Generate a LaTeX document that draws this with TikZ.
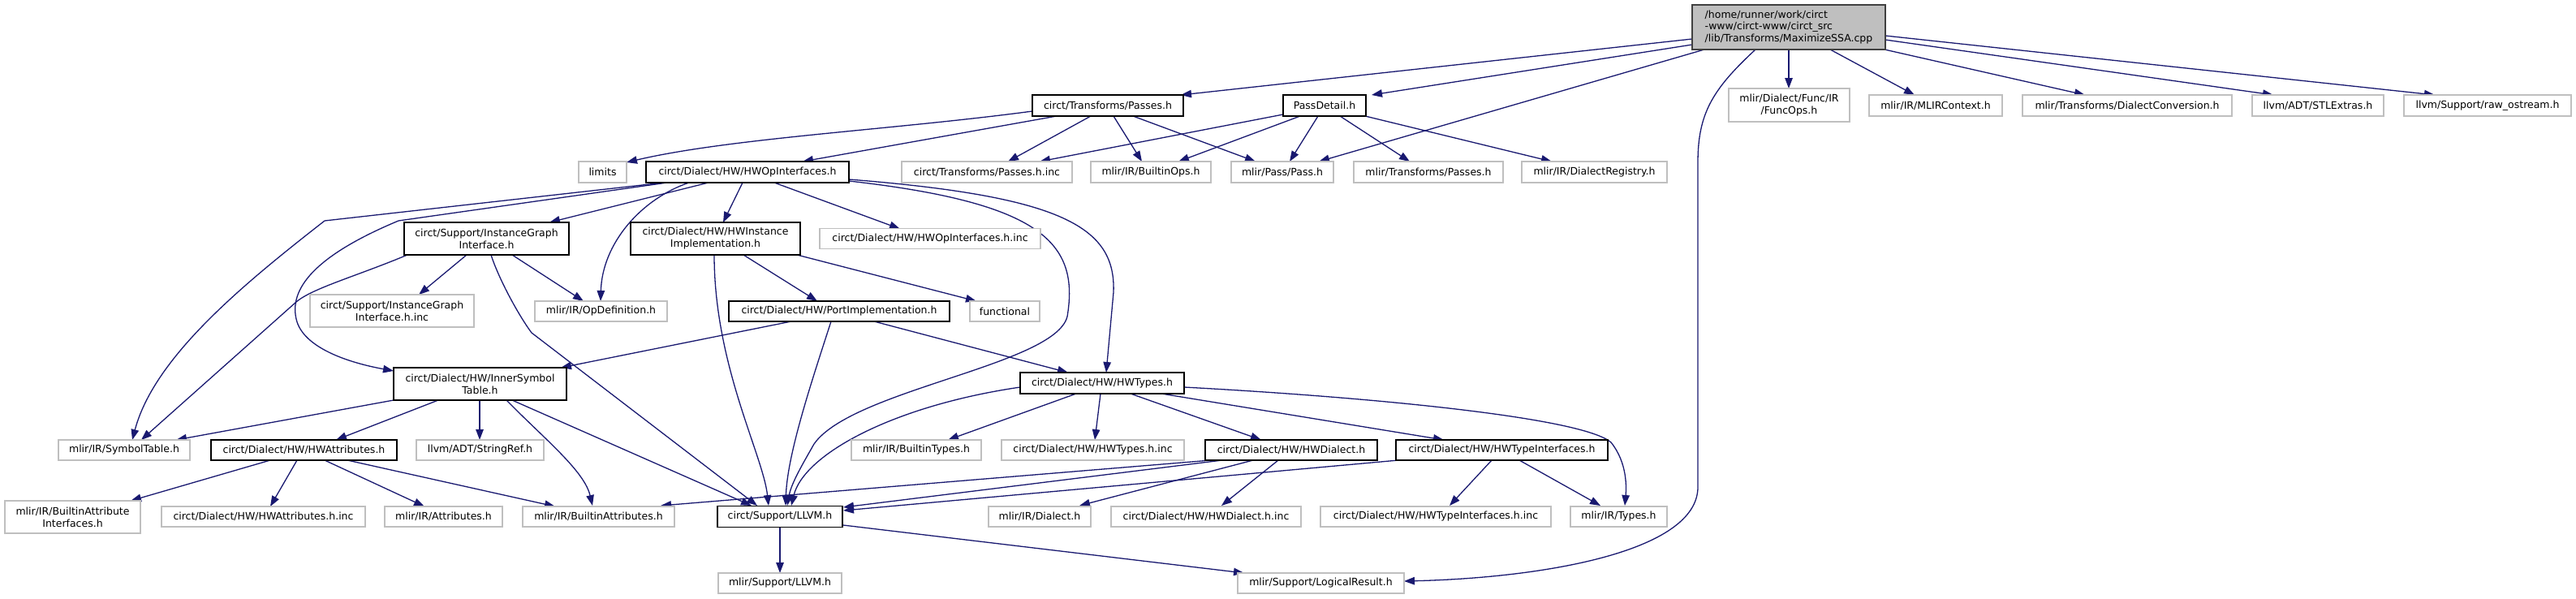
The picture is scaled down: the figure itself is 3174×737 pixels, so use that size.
\documentclass[tikz,border=0pt]{standalone}
\usepackage{fontspec}
\setmainfont{DejaVu Sans}
\usetikzlibrary{arrows.meta,backgrounds}
\definecolor{edgec}{HTML}{191970}
\definecolor{greyb}{HTML}{BFBFBF}
\definecolor{greyd}{HTML}{404040}
\begin{document}
\begin{tikzpicture}[x=1pt,y=-1pt,
  every node/.style={inner sep=0pt, font=\fontsize{12.5}{15}\selectfont},
  docbox/.style={draw=black, line width=1.8pt, fill=white, align=center},
  undoc/.style={draw=greyb, line width=1.6pt, fill=white, align=center},
  rootbox/.style={draw=greyd, line width=1.8pt, fill=greyb, align=left, font=\fontsize{12.5}{14.3}\selectfont},
  e/.style={draw=edgec, line width=1.3pt, -{Triangle[length=13pt,width=9.5pt]}}]
\useasboundingbox (0,0) rectangle (3174,737);

% row 1
\node[rootbox, minimum width=238, minimum height=55] (root) at (2204,33.5) {/home/runner/work/circt\\-www/circt-www/circt\_src\\/lib/Transforms/MaximizeSSA.cpp};
% row 2
\node[docbox, minimum width=186, minimum height=26] (passes) at (1365,130) {circt/Transforms/Passes.h};
\node[docbox, minimum width=102, minimum height=26] (passdetail) at (1632,130) {PassDetail.h};
\node[undoc, minimum width=149, minimum height=41] (funcops) at (2204.5,129.5) {mlir/Dialect/Func/IR\\/FuncOps.h};
\node[undoc, minimum width=164, minimum height=26] (mlircontext) at (2385,130) {mlir/IR/MLIRContext.h};
\node[undoc, minimum width=258, minimum height=26] (dialectconv) at (2621,130) {mlir/Transforms/DialectConversion.h};
\node[undoc, minimum width=162, minimum height=26] (stlextras) at (2856,130) {llvm/ADT/STLExtras.h};
\node[undoc, minimum width=206, minimum height=26] (rawostream) at (3065,130) {llvm/Support/raw\_ostream.h};
% row 3
\node[undoc, minimum width=59, minimum height=26] (limits) at (742.5,212) {limits};
\node[docbox, minimum width=250, minimum height=26] (hwop) at (921,212) {circt/Dialect/HW/HWOpInterfaces.h};
\node[undoc, minimum width=210, minimum height=26] (passesinc) at (1216,212) {circt/Transforms/Passes.h.inc};
\node[undoc, minimum width=148, minimum height=26] (builtinops) at (1418,212) {mlir/IR/BuiltinOps.h};
\node[undoc, minimum width=126, minimum height=26] (pass) at (1580,212) {mlir/Pass/Pass.h};
\node[undoc, minimum width=184, minimum height=26] (mlirpasses) at (1760,212) {mlir/Transforms/Passes.h};
\node[undoc, minimum width=179, minimum height=26] (dialectreg) at (1964.5,212) {mlir/IR/DialectRegistry.h};
% row 4
\node[docbox, minimum width=203, minimum height=40] (instgraph) at (599.5,294) {circt/Support/InstanceGraph\\Interface.h};
\node[docbox, minimum width=209, minimum height=40] (hwinstimpl) at (881.5,294) {circt/Dialect/HW/HWInstance\\Implementation.h};
\node[undoc, minimum width=272, minimum height=25] (hwopinc) at (1146,294) {circt/Dialect/HW/HWOpInterfaces.h.inc};
% row 5
\node[undoc, minimum width=202, minimum height=40] (instgraphinc) at (483,383) {circt/Support/InstanceGraph\\Interface.h.inc};
\node[undoc, minimum width=163, minimum height=25] (opdef) at (740.5,383.5) {mlir/IR/OpDefinition.h};
\node[docbox, minimum width=272, minimum height=25] (portimpl) at (1034,383.5) {circt/Dialect/HW/PortImplementation.h};
\node[undoc, minimum width=86, minimum height=25] (functional) at (1238,383.5) {functional};
% row 6
\node[docbox, minimum width=213, minimum height=40] (innersym) at (591.5,473) {circt/Dialect/HW/InnerSymbol\\Table.h};
\node[docbox, minimum width=202, minimum height=26] (hwtypes) at (1358,472) {circt/Dialect/HW/HWTypes.h};
% row 7
\node[undoc, minimum width=162, minimum height=25] (symboltable) at (153,554.5) {mlir/IR/SymbolTable.h};
\node[docbox, minimum width=229, minimum height=25] (hwattr) at (374.5,554.5) {circt/Dialect/HW/HWAttributes.h};
\node[undoc, minimum width=157, minimum height=25] (stringref) at (591.5,554.5) {llvm/ADT/StringRef.h};
\node[undoc, minimum width=160, minimum height=25] (builtintypes) at (1129,554.5) {mlir/IR/BuiltinTypes.h};
\node[undoc, minimum width=225, minimum height=25] (hwtypesinc) at (1346.5,554.5) {circt/Dialect/HW/HWTypes.h.inc};
\node[docbox, minimum width=212, minimum height=25] (hwdialect) at (1591,554.5) {circt/Dialect/HW/HWDialect.h};
\node[docbox, minimum width=261, minimum height=25] (hwtypeif) at (1850.5,554.5) {circt/Dialect/HW/HWTypeInterfaces.h};
% row 8
\node[undoc, minimum width=167, minimum height=40] (builtinattrif) at (89.5,637) {mlir/IR/BuiltinAttribute\\Interfaces.h};
\node[undoc, minimum width=251, minimum height=25] (hwattrinc) at (324.5,636.5) {circt/Dialect/HW/HWAttributes.h.inc};
\node[undoc, minimum width=145, minimum height=25] (attributes) at (546.5,636.5) {mlir/IR/Attributes.h};
\node[undoc, minimum width=187, minimum height=25] (builtinattr) at (737.5,636.5) {mlir/IR/BuiltinAttributes.h};
\node[docbox, minimum width=154, minimum height=26] (llvm) at (961,636.5) {circt/Support/LLVM.h};
\node[undoc, minimum width=126, minimum height=25] (dialect) at (1281,636.5) {mlir/IR/Dialect.h};
\node[undoc, minimum width=234, minimum height=25] (hwdialectinc) at (1486,636.5) {circt/Dialect/HW/HWDialect.h.inc};
\node[undoc, minimum width=284, minimum height=25] (hwtypeifinc) at (1769,636.5) {circt/Dialect/HW/HWTypeInterfaces.h.inc};
\node[undoc, minimum width=119, minimum height=25] (types) at (1994.5,636.5) {mlir/IR/Types.h};
% row 9
\node[undoc, minimum width=152, minimum height=25] (mlirllvm) at (961,718.5) {mlir/Support/LLVM.h};
\node[undoc, minimum width=205, minimum height=25] (logicalresult) at (1627.5,718.5) {mlir/Support/LogicalResult.h};

\begin{scope}[on background layer]
% root
\draw[e] ([shift={(-119,14.5)}]root.center) -- ([shift={(90,-13)}]passes.center);
\draw[e] ([shift={(-119,21.5)}]root.center) -- ([shift={(58,-13)}]passdetail.center);
\draw[e] ([shift={(-104,27.5)}]root.center) -- ([shift={(45,-13)}]pass.center);
\draw[e] ([shift={(-41,27.5)}]root.center) .. controls (2110,110) and (2092,140) .. (2092,200) -- (2092,600) .. controls (2092,680) and (1900,712) .. ([shift={(102.5,-2.5)}]logicalresult.center);
\draw[e] ([shift={(0,27.5)}]root.center) -- ([shift={(-0.5,-20.5)}]funcops.center);
\draw[e] ([shift={(51,27.5)}]root.center) -- ([shift={(-26,-13)}]mlircontext.center);
\draw[e] ([shift={(118,27.5)}]root.center) -- ([shift={(-52,-13)}]dialectconv.center);
\draw[e] ([shift={(119,15.5)}]root.center) -- ([shift={(-55,-13)}]stlextras.center);
\draw[e] ([shift={(119,10.5)}]root.center) -- ([shift={(-65,-13)}]rawostream.center);
% passes
\draw[e] ([shift={(-93,7)}]passes.center) .. controls (1100,160) and (900,170) .. ([shift={(29.5,-12)}]limits.center);
\draw[e] ([shift={(-63,13)}]passes.center) -- ([shift={(68,-13)}]hwop.center);
\draw[e] ([shift={(-21,13)}]passes.center) -- ([shift={(26,-13)}]passesinc.center);
\draw[e] ([shift={(7,13)}]passes.center) -- ([shift={(-11,-13)}]builtinops.center);
\draw[e] ([shift={(31,13)}]passes.center) -- ([shift={(-33,-13)}]pass.center);
% passdetail
\draw[e] ([shift={(-51,11)}]passdetail.center) -- ([shift={(65,-13)}]passesinc.center);
\draw[e] ([shift={(-30,13)}]passdetail.center) -- ([shift={(34,-13)}]builtinops.center);
\draw[e] ([shift={(-8,13)}]passdetail.center) -- ([shift={(9,-13)}]pass.center);
\draw[e] ([shift={(19,13)}]passdetail.center) -- ([shift={(-23,-13)}]mlirpasses.center);
\draw[e] ([shift={(50,13)}]passdetail.center) -- ([shift={(-52.5,-13)}]dialectreg.center);
% hwop
\draw[e] ([shift={(-103,13)}]hwop.center) -- (400,272) .. controls (300,350) and (190,440) .. ([shift={(10,-12.5)}]symboltable.center);
\draw[e] ([shift={(-99,13)}]hwop.center) -- (491,272) .. controls (400,310) and (355,350) .. (365,393) .. controls (372,425) and (420,445) .. ([shift={(-106.5,-16)}]innersym.center);
\draw[e] ([shift={(-48,13)}]hwop.center) -- ([shift={(77.5,-20)}]instgraph.center);
\draw[e] ([shift={(-72,13)}]hwop.center) .. controls (790,245) and (742,300) .. ([shift={(-0.5,-12.5)}]opdef.center);
\draw[e] ([shift={(-6,13)}]hwop.center) -- ([shift={(9.5,-20)}]hwinstimpl.center);
\draw[e] ([shift={(33,13)}]hwop.center) -- ([shift={(-37,-12)}]hwopinc.center);
\draw[e] ([shift={(125,11)}]hwop.center) .. controls (1285,250) and (1330,300) .. (1315,390) .. controls (1300,450) and (1050,480) .. (1003,547) .. controls (990,570) and (975,595) .. ([shift={(9,-13.5)}]llvm.center);
\draw[e] ([shift={(125,9)}]hwop.center) .. controls (1310,242) and (1375,280) .. (1372,360) -- ([shift={(5,-13)}]hwtypes.center);
% instgraph
\draw[e] ([shift={(-24.5,20)}]instgraph.center) -- ([shift={(33,-20)}]instgraphinc.center);
\draw[e] ([shift={(-97.5,20)}]instgraph.center) .. controls (440,340) and (385,355) .. (365,372) -- ([shift={(21,-12.5)}]symboltable.center);
\draw[e] ([shift={(31.5,20)}]instgraph.center) -- ([shift={(-21.5,-12.5)}]opdef.center);
\draw[e] ([shift={(5.5,20)}]instgraph.center) .. controls (615,345) and (640,390) .. (655,410) -- ([shift={(-28,-13.5)}]llvm.center);
% hwinstimpl
\draw[e] ([shift={(100.5,20)}]hwinstimpl.center) -- ([shift={(-35,-12.5)}]functional.center);
\draw[e] ([shift={(34.5,20)}]hwinstimpl.center) -- ([shift={(-27,-12.5)}]portimpl.center);
\draw[e] ([shift={(-1.5,20)}]hwinstimpl.center) .. controls (880,450) and (940,560) .. ([shift={(-14,-13.5)}]llvm.center);
% portimpl
\draw[e] ([shift={(-59,12.5)}]portimpl.center) -- ([shift={(99.5,-20)}]innersym.center);
\draw[e] ([shift={(-10,12.5)}]portimpl.center) .. controls (1000,470) and (970,560) .. ([shift={(7,-13.5)}]llvm.center);
\draw[e] ([shift={(43,12.5)}]portimpl.center) -- ([shift={(-42,-13)}]hwtypes.center);
% hwtypes
\draw[e] ([shift={(-32,13)}]hwtypes.center) -- ([shift={(39,-12.5)}]builtintypes.center);
\draw[e] ([shift={(-2,13)}]hwtypes.center) -- ([shift={(2.5,-12.5)}]hwtypesinc.center);
\draw[e] ([shift={(35,13)}]hwtypes.center) -- ([shift={(-37,-12.5)}]hwdialect.center);
\draw[e] ([shift={(73,13)}]hwtypes.center) -- ([shift={(-71.5,-12.5)}]hwtypeif.center);
\draw[e] ([shift={(101,5)}]hwtypes.center) .. controls (1700,490) and (1950,515) .. (1985,545) .. controls (2005,570) and (2004,600) .. ([shift={(7.5,-13.5)}]types.center);
\draw[e] ([shift={(-101,5)}]hwtypes.center) .. controls (1100,500) and (990,560) .. ([shift={(14,-13.5)}]llvm.center);
% hwdialect
\draw[e] ([shift={(-99,12.5)}]hwdialect.center) -- ([shift={(76.5,-13.5)}]builtinattr.center);
\draw[e] ([shift={(-85,12.5)}]hwdialect.center) -- ([shift={(78,-11.5)}]llvm.center);
\draw[e] ([shift={(-47,12.5)}]hwdialect.center) -- ([shift={(49,-13.5)}]dialect.center);
\draw[e] ([shift={(-16,12.5)}]hwdialect.center) -- ([shift={(19,-13.5)}]hwdialectinc.center);
% hwtypeif
\draw[e] ([shift={(-127.5,12.5)}]hwtypeif.center) -- ([shift={(78,-7.5)}]llvm.center);
\draw[e] ([shift={(-12.5,12.5)}]hwtypeif.center) -- ([shift={(17,-13.5)}]hwtypeifinc.center);
\draw[e] ([shift={(21.5,12.5)}]hwtypeif.center) -- ([shift={(-22.5,-13.5)}]types.center);
% innersym
\draw[e] ([shift={(-106.5,20)}]innersym.center) -- ([shift={(64,-12.5)}]symboltable.center);
\draw[e] ([shift={(-51.5,20)}]innersym.center) -- ([shift={(39.5,-12.5)}]hwattr.center);
\draw[e] ([shift={(-0.5,20)}]innersym.center) -- ([shift={(-0.5,-12.5)}]stringref.center);
\draw[e] ([shift={(32.5,20)}]innersym.center) .. controls (670,540) and (720,580) .. ([shift={(-7.5,-13.5)}]builtinattr.center);
\draw[e] ([shift={(39.5,20)}]innersym.center) -- ([shift={(-35,-13.5)}]llvm.center);
% hwattr
\draw[e] ([shift={(-41.5,12.5)}]hwattr.center) -- ([shift={(71.5,-20)}]builtinattrif.center);
\draw[e] ([shift={(-8.5,12.5)}]hwattr.center) -- ([shift={(8.5,-12.5)}]hwattrinc.center);
\draw[e] ([shift={(25.5,12.5)}]hwattr.center) -- ([shift={(-23.5,-12.5)}]attributes.center);
\draw[e] ([shift={(53.5,12.5)}]hwattr.center) -- ([shift={(-53.5,-12.5)}]builtinattr.center);
% llvm
\draw[e] ([shift={(0,13)}]llvm.center) -- ([shift={(0,-12.5)}]mlirllvm.center);
\draw[e] ([shift={(78,10.5)}]llvm.center) -- ([shift={(-94.5,-12.5)}]logicalresult.center);
\end{scope}
\end{tikzpicture}
\end{document}
